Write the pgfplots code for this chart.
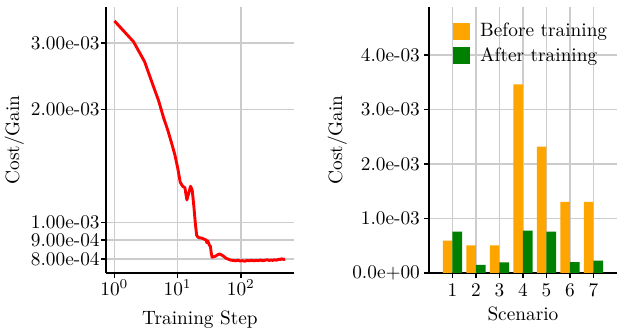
\documentclass[border=0pt]{standalone}
\usepackage{pgfplots}
\pgfplotsset{compat=1.18}
\definecolor{barorange}{HTML}{FFA500}
\definecolor{bargreen}{HTML}{008000}
\pgfplotsset{
  panel/.style={
    scale only axis, width=97.4pt, height=137.8pt,
    axis x line*=bottom, axis y line*=left,
    axis line style={-, line width=1pt, black},
    tick align=outside, major tick length=2.5pt,
    tick style={black, line width=0.8pt},
    grid=major, grid style={black!20, line width=0.8pt},
    ylabel style={at={(axis description cs:-0.487,0.5)}, anchor=center, rotate=0},
  },
  sqlegend/.style={legend image code/.code={
    \fill[##1] (0pt,-4.4pt) rectangle (8.8pt,4.4pt); \path (0pt,0pt) (12.3pt,0pt);}},
}
\begin{document}
\begin{tikzpicture}
\useasboundingbox (-54.9pt,-31.6pt) rectangle (269pt,141.4pt);

% left: cost over training steps (log-log)
\begin{axis}[panel,
  xmode=log, ymode=log,
  xmin=0.734, xmax=689, ymin=7.357e-4, ymax=3.747e-3,
  xtick={1,10,100}, xminorticks=false, yminorticks=false,
  ytick={8e-4,9e-4,1e-3,2e-3,3e-3},
  yticklabels={8.00e-04,9.00e-04,1.00e-03,2.00e-03,3.00e-03},
  yticklabel style={inner xsep=0.6pt},
  xticklabel style={yshift=2.5pt},
  xlabel={Training Step}, ylabel={Cost/Gain},
  xlabel style={at={(axis description cs:0.5,-0.195)}, anchor=base},
]
\addplot[red, line width=1.5pt, line join=round, mark=none] coordinates {
  (1,3.44e-3) (2,3.03e-3) (3,2.68e-3) (4,2.34e-3) (5,2.11e-3)
  (6,1.90e-3) (7,1.76e-3) (8,1.63e-3) (9,1.52e-3) (10,1.40e-3)
  (11,1.28e-3) (12,1.25e-3) (13,1.24e-3) (14,1.15e-3) (15,1.20e-3)
  (16,1.25e-3) (17,1.22e-3) (18,1.11e-3) (19,1.00e-3) (20,9.25e-4)
  (21,9.15e-4) (22,9.12e-4) (24,9.10e-4) (26,9.05e-4) (28,9.00e-4)
  (29,8.85e-4) (30,8.95e-4) (31,8.80e-4) (32,8.70e-4) (33,8.65e-4)
  (34,8.30e-4) (35,8.10e-4) (37,8.12e-4) (40,8.15e-4) (43,8.22e-4)
  (46,8.26e-4) (50,8.20e-4) (54,8.13e-4) (58,8.05e-4) (63,8.00e-4)
  (68,7.96e-4) (75,7.94e-4) (82,7.92e-4) (90,7.95e-4) (97,7.91e-4)
  (105,7.93e-4) (115,7.90e-4) (125,7.94e-4) (135,7.92e-4) (145,7.95e-4)
  (160,7.92e-4) (175,7.94e-4) (190,7.93e-4) (205,7.96e-4) (220,7.92e-4)
  (240,7.95e-4) (260,7.97e-4) (280,7.94e-4) (300,7.96e-4) (320,7.94e-4)
  (340,7.98e-4) (360,7.95e-4) (380,7.97e-4) (400,8.00e-4) (420,7.98e-4)
  (440,8.02e-4) (460,8.00e-4) (480,7.99e-4) (500,8.00e-4)
};
\end{axis}

% right: per-scenario cost before/after training
\begin{axis}[panel, at={(167.4pt,0pt)}, anchor=south west,
  xmin=0, xmax=8, ymin=0, ymax=4.88e-3,
  xtick={1,2,3,4,5,6,7},
  ytick={0,1e-3,2e-3,3e-3,4e-3},
  yticklabels={0.0e+00,1.0e-03,2.0e-03,3.0e-03,4.0e-03},
  yticklabel style={inner xsep=2pt},
  scaled y ticks=false,
  xlabel={Scenario}, ylabel={Cost/Gain},
  xlabel style={at={(axis description cs:0.5,-0.179)}, anchor=base},
  legend style={draw=none, fill=none, at={(0.124,0.955)}, anchor=north west,
    inner sep=0pt, font=\normalsize},
  legend cell align=left,
]
\addplot[ybar, bar width=0.41, bar shift=-0.205, fill=barorange, draw=none, sqlegend]
  coordinates {(1,5.93e-4) (2,5.02e-4) (3,5.02e-4) (4,3.46e-3) (5,2.318e-3) (6,1.303e-3) (7,1.303e-3)};
\addlegendentry{Before training}
\addplot[ybar, bar width=0.41, bar shift=0.205, fill=bargreen, draw=none, sqlegend]
  coordinates {(1,7.58e-4) (2,1.47e-4) (3,1.90e-4) (4,7.77e-4) (5,7.58e-4) (6,1.96e-4) (7,2.26e-4)};
\addlegendentry{After training}
\end{axis}
\end{tikzpicture}
\end{document}
